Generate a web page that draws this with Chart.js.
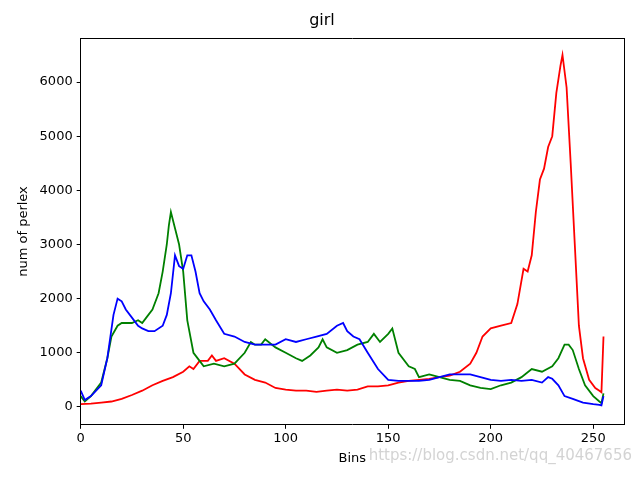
<!DOCTYPE html>
<html>
<head>
<meta charset="utf-8">
<script src="https://cdn.jsdelivr.net/npm/chart.js@4"></script>
<style>
  body { margin: 0; background: #fff; }
  #wrap { position: relative; width: 640px; height: 480px; }
  #mark { position: absolute; right: 8px; bottom: 16px; font: 15px "DejaVu Sans"; color: rgba(200,200,200,0.8); }
</style>
</head>
<body>
<div id="wrap">
  <canvas id="hist-chart" width="640" height="480"></canvas>
  <div id="mark">https://blog.csdn.net/qq_40467656</div>
</div>
<script>
const blueBins = [0,2,5,10,13,16,18,20,22,25,28,30,33,36,40,42,44,46,48,50,52,54,56,58,60,63,66,70,75,80,85,90,95,100,105,110,115,120,125,128,130,133,136,140,145,150,155,160,165,170,175,180,185,190,195,200,205,210,215,220,225,228,230,233,236,240,245,250,253,254,255];
const blueVals = [300,130,200,400,900,1700,2000,1950,1800,1650,1500,1450,1400,1400,1500,1700,2100,2800,2600,2550,2800,2800,2500,2100,1950,1800,1600,1350,1300,1200,1150,1150,1150,1250,1200,1250,1300,1350,1500,1550,1400,1300,1250,1000,700,500,480,480,480,500,550,600,600,600,550,500,480,500,480,500,450,550,520,400,200,150,80,50,40,30,200];

const greenBins = [0,2,5,10,13,15,18,20,25,28,30,32,35,38,40,42,43,44,46,48,50,52,55,58,60,65,70,75,80,83,85,88,90,95,100,105,108,112,116,118,120,125,130,135,140,143,146,150,152,155,160,163,165,170,175,180,185,190,195,200,205,210,215,220,225,230,233,236,238,240,243,246,250,253,254,255];
const greenVals = [200,100,200,450,900,1300,1500,1550,1550,1600,1550,1650,1800,2100,2500,3000,3350,3600,3300,3000,2500,1600,1000,850,750,800,750,800,1000,1200,1150,1150,1250,1100,1000,900,850,950,1100,1250,1100,1000,1050,1150,1200,1350,1200,1350,1450,1000,750,700,550,600,550,500,480,400,350,330,400,450,550,700,650,750,900,1150,1150,1050,700,400,200,100,70,250];

const redBins = [0,5,10,15,20,25,30,35,40,45,50,53,55,58,62,64,66,70,75,80,85,90,95,100,105,110,115,120,125,130,135,140,145,150,155,160,165,170,175,180,185,190,193,196,200,205,210,213,216,218,220,222,224,226,228,230,232,234,235,237,239,241,243,245,248,251,253,254,255];
const redVals = [50,60,80,100,150,220,300,400,480,550,650,750,700,850,850,950,850,900,800,600,500,450,350,320,300,300,280,300,320,300,320,380,380,400,450,480,500,520,550,580,650,800,1000,1300,1450,1500,1550,1900,2550,2500,2800,3600,4200,4400,4800,5000,5800,6300,6500,5900,4500,3000,1500,900,500,350,300,270,1300];

const xTicks = [0, 50, 100, 150, 200, 250];
const yTicks = [0, 1000, 2000, 3000, 4000, 5000, 6000];

function pts(bins, vals) {
  return bins.map((b, i) => ({ x: b, y: vals[i] }));
}
function series(bins, vals, color) {
  return {
    data: pts(bins, vals),
    borderColor: color,
    borderWidth: 1.8,
    pointRadius: 0,
    tension: 0,
    fill: false,
  };
}

const tickFont = { family: "DejaVu Sans", size: 13 };
const grid = { drawOnChartArea: false, drawTicks: true, tickLength: 4, color: "#000" };
// empty axes on top and right just to close the box
const edge = (pos) => ({
  position: pos,
  display: true,
  grid: { display: false },
  ticks: { display: false },
  border: { display: true, color: "#000" },
});

new Chart(document.getElementById("hist-chart"), {
  type: "line",
  data: {
    datasets: [
      series(blueBins, blueVals, "#0000ff"),
      series(greenBins, greenVals, "#008000"),
      series(redBins, redVals, "#ff0000"),
    ],
  },
  options: {
    responsive: false,
    animation: false,
    layout: { padding: { left: 12, right: 8, top: 2, bottom: 12 } },
    scales: {
      x: {
        type: "linear",
        min: 0,
        max: 265,
        grid: grid,
        border: { color: "#000" },
        afterBuildTicks: (axis) => { axis.ticks = xTicks.map((v) => ({ value: v })); },
        ticks: { color: "#000", font: tickFont, maxRotation: 0, padding: 2 },
        title: { display: true, text: "Bins", color: "#000", font: tickFont, padding: 2 },
      },
      x2: Object.assign(edge("top"), { type: "linear", min: 0, max: 265 }),
      y: {
        min: -330,
        max: 6810,
        grid: grid,
        border: { color: "#000" },
        afterBuildTicks: (axis) => { axis.ticks = yTicks.map((v) => ({ value: v })); },
        ticks: { color: "#000", font: tickFont, padding: 4, callback: (v) => String(v) },
        title: { display: true, text: "num of perlex", color: "#000", font: tickFont },
      },
      y2: Object.assign(edge("right"), { min: -330, max: 6810 }),
    },
    plugins: {
      legend: { display: false },
      tooltip: { enabled: false },
      title: { display: true, text: "girl", color: "#000", font: { family: "DejaVu Sans", size: 16, weight: "normal" }, padding: { top: 9, bottom: 0 } },
    },
  },
});
</script>
</body>
</html>
